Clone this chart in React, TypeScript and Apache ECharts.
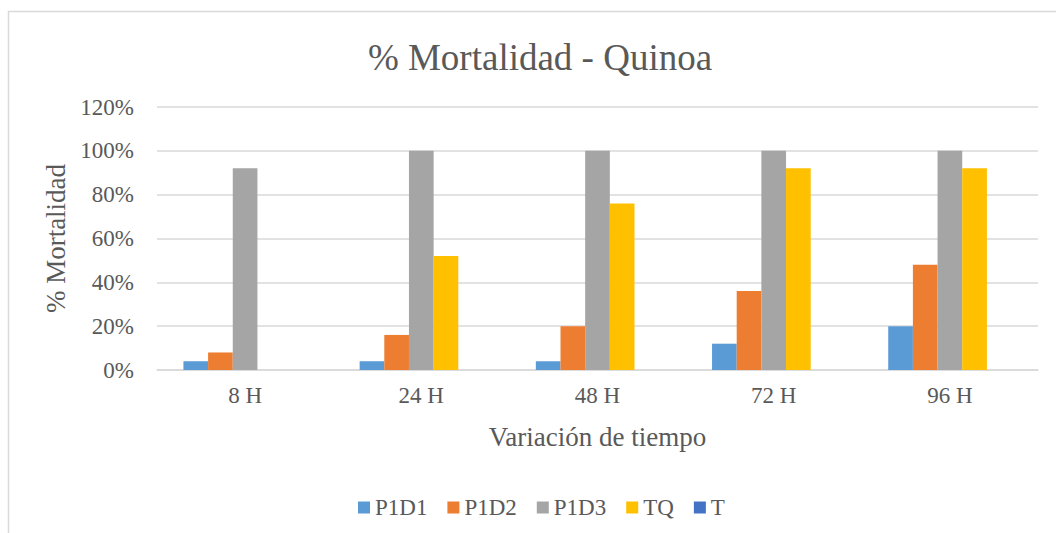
import React, { useEffect, useRef } from "react";
import * as echarts from "echarts";

const categories = ["8 H", "24 H", "48 H", "72 H", "96 H"];
const seriesNames = ["P1D1", "P1D2", "P1D3", "TQ", "T"];
const p1d1 = [4, 4, 4, 12, 20];
const p1d2 = [8, 16, 20, 36, 48];
const p1d3 = [92, 100, 100, 100, 100];
const tq = [0, 52, 76, 92, 92];
const t = [0, 0, 0, 0, 0];
const yTicks = { min: 0, max: 120, interval: 20 };
const colors = ["#5B9BD5", "#ED7D31", "#A5A5A5", "#FFC000", "#4472C4"];

const FONT = "'Liberation Serif', 'Times New Roman', serif";
const TXT = "#595959";

export default function App() {
  const ref = useRef<HTMLDivElement>(null);
  useEffect(() => {
    if (!ref.current) return;
    const chart = echarts.init(ref.current, undefined, { renderer: "svg" });
    const data = [p1d1, p1d2, p1d3, tq, t];
    chart.setOption({
      animation: false,
      color: colors,
      textStyle: { fontFamily: FONT },
      title: {
        text: "% Mortalidad - Quinoa",
        left: 535,
        textAlign: "center",
        top: 34,
        textStyle: { fontFamily: FONT, fontSize: 37, fontWeight: "normal", color: TXT },
      },
      graphic: [
        {
          type: "rect",
          shape: { x: 8.5, y: 11.5, width: 1100, height: 600 },
          style: { fill: "none", stroke: "#D9D9D9", lineWidth: 1.5 },
          silent: true,
          z: -1,
        },
      ],
      grid: { left: 157, right: 18, top: 107, bottom: 163 },
      legend: {
        data: seriesNames,
        left: 353,
        top: 491,
        itemWidth: 12,
        itemHeight: 12,
        itemGap: 20,
        icon: "rect",
        textStyle: { fontFamily: FONT, fontSize: 23, color: TXT },
      },
      xAxis: {
        type: "category",
        data: categories,
        name: "Variación de tiempo",
        nameLocation: "middle",
        nameGap: 53,
        nameTextStyle: { fontFamily: FONT, fontSize: 27, color: TXT },
        axisLine: { lineStyle: { color: "#D9D9D9", width: 1.5 } },
        axisTick: { show: false },
        axisLabel: { fontFamily: FONT, fontSize: 23, color: TXT, margin: 14 },
      },
      yAxis: {
        type: "value",
        min: yTicks.min,
        max: yTicks.max,
        interval: yTicks.interval,
        name: "% Mortalidad",
        nameLocation: "middle",
        nameGap: 82,
        nameRotate: 90,
        nameTextStyle: { fontFamily: FONT, fontSize: 27, color: TXT },
        axisLine: { show: false },
        axisTick: { show: false },
        axisLabel: { fontFamily: FONT, fontSize: 23, color: TXT, margin: 23, formatter: "{value}%" },
        splitLine: { lineStyle: { color: "#D9D9D9", width: 1.5 } },
      },
      series: seriesNames.map((name, i) => ({
        name,
        type: "bar",
        data: data[i],
        barWidth: "14%",
        barGap: "0%",
      })),
    });
    return () => chart.dispose();
  }, []);
  return (
    <div
      ref={ref}
      style={{ position: "absolute", left: 0, top: 0, width: 1056, height: 533, background: "#fff" }}
    />
  );
}
